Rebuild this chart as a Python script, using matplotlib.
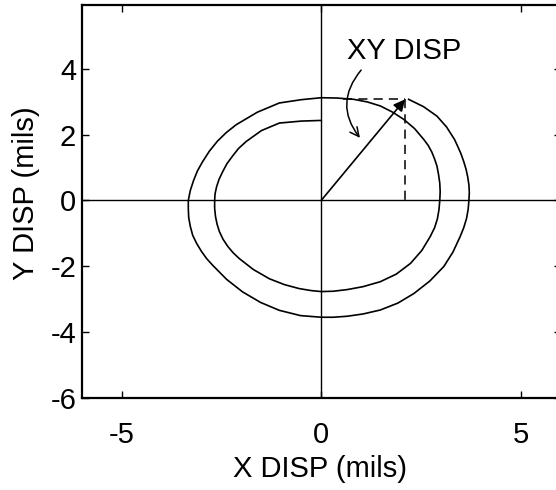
import matplotlib
matplotlib.use("Agg")
import matplotlib.pyplot as plt

plt.rcParams['font.family'] = ['Liberation Sans', 'DejaVu Sans']
plt.rcParams['axes.unicode_minus'] = False

# orbit of the shaft centre, counter-clockwise from the start on the Y axis
orbit_x = [0.0, -0.5, -1.05, -1.5, -1.88, -2.07, -2.22, -2.36, -2.47, -2.56, -2.62, -2.66,
           -2.67, -2.67, -2.65, -2.61, -2.55, -2.46, -2.34, -2.2, -2.05, -1.7, -1.3, -0.92,
           -0.55, -0.25, 0.0, 0.3, 0.65, 1.05, 1.48, 1.88, 2.24, 2.52, 2.73, 2.84, 2.91,
           2.95, 2.97, 2.98, 2.97, 2.94, 2.9, 2.84, 2.77, 2.68, 2.57, 2.34, 2.07, 1.79,
           1.48, 1.16, 0.82, 0.4, 0.0,
           -0.5, -1.05, -1.6, -2.13, -2.38, -2.6, -2.8, -2.97, -3.1, -3.2, -3.28, -3.33,
           -3.33, -3.32, -3.28, -3.22, -3.12, -3.0, -2.87, -2.72, -2.37, -1.97, -1.52,
           -1.05, -0.52, 0.0, 0.3, 0.65, 1.05, 1.48, 1.92, 2.32, 2.72, 3.07, 3.3, 3.48,
           3.57, 3.64, 3.68, 3.7, 3.71, 3.7, 3.67, 3.63, 3.57, 3.5, 3.42, 3.34, 3.14,
           2.9, 2.56, 2.19]
orbit_y = [2.43, 2.41, 2.35, 2.12, 1.79, 1.58, 1.35, 1.12, 0.87, 0.64, 0.42, 0.2,
           0.0, -0.24, -0.48, -0.72, -0.95, -1.18, -1.4, -1.6, -1.77, -2.1, -2.38, -2.56,
           -2.68, -2.74, -2.77, -2.76, -2.71, -2.62, -2.47, -2.24, -1.91, -1.52, -1.10,
           -0.83, -0.56, -0.28, 0.0, 0.26, 0.52, 0.78, 1.04, 1.26, 1.47, 1.67, 1.85,
           2.18, 2.46, 2.68, 2.87, 2.99, 3.07, 3.11, 3.12,
           3.06, 2.96, 2.68, 2.30, 2.06, 1.80, 1.50, 1.18, 0.9, 0.60, 0.3, 0.0,
           -0.26, -0.52, -0.79, -1.06, -1.31, -1.55, -1.77, -1.97, -2.4, -2.78, -3.1,
           -3.34, -3.5, -3.55, -3.55, -3.52, -3.45, -3.33, -3.12, -2.83, -2.45, -2.01,
           -1.57, -1.10, -0.83, -0.55, -0.28, 0.0, 0.24, 0.47, 0.71, 0.94, 1.18, 1.42,
           1.64, 1.85, 2.23, 2.56, 2.85, 3.07]

# displacement vector at the last sample
disp_x = 2.1
disp_y = 3.07

x_ticks = [-5, 0, 5]
y_ticks = [-6, -4, -2, 0, 2, 4]

fig = plt.figure(figsize=(5.56, 4.9), dpi=100)
ax = fig.add_axes([0.147, 0.188, 0.8615, 0.802])

ax.axhline(0, color='black', lw=1.0, zorder=1)
ax.axvline(0, color='black', lw=1.0, zorder=1)

ax.plot(orbit_x, orbit_y, color='black', lw=1.2, zorder=3)

# x / y components
ax.plot([0.55, disp_x], [disp_y, disp_y], color='black', lw=1.1, ls=(0, (6, 4)), zorder=2)
ax.plot([disp_x, disp_x], [disp_y, 0], color='black', lw=1.1, ls=(0, (6, 4)), zorder=2)

ax.annotate('', xy=(disp_x, disp_y), xytext=(0, 0),
            arrowprops=dict(arrowstyle='-|>', color='black', lw=1.2,
                            mutation_scale=17, shrinkA=0, shrinkB=0), zorder=4)

ax.text(0.65, 4.1, 'XY DISP', fontsize=21, ha='left', va='bottom')
ax.annotate('', xy=(0.97, 1.9), xytext=(1.0, 3.96),
            arrowprops=dict(arrowstyle='->', color='black', lw=1.1,
                            connectionstyle='arc3,rad=0.4',
                            shrinkA=0, shrinkB=0, mutation_scale=16))

ax.set_xlim(-6, 6)
ax.set_ylim(-6, 5.94)
ax.set_xticks(x_ticks)
ax.set_yticks(y_ticks)
ax.tick_params(direction='in', length=5, width=1.0, labelsize=21,
               top=True, right=True)
ax.tick_params(axis='x', pad=17)
ax.tick_params(axis='y', pad=4)
for s in ax.spines.values():
    s.set_linewidth(1.6)

ax.set_xlabel('X DISP (mils)', fontsize=21)
ax.set_ylabel('Y DISP (mils)', fontsize=21)
ax.xaxis.set_label_coords(0.4975, -0.145)
ax.yaxis.set_label_coords(-0.087, 0.52)

fig.savefig('out.png', dpi=100)
